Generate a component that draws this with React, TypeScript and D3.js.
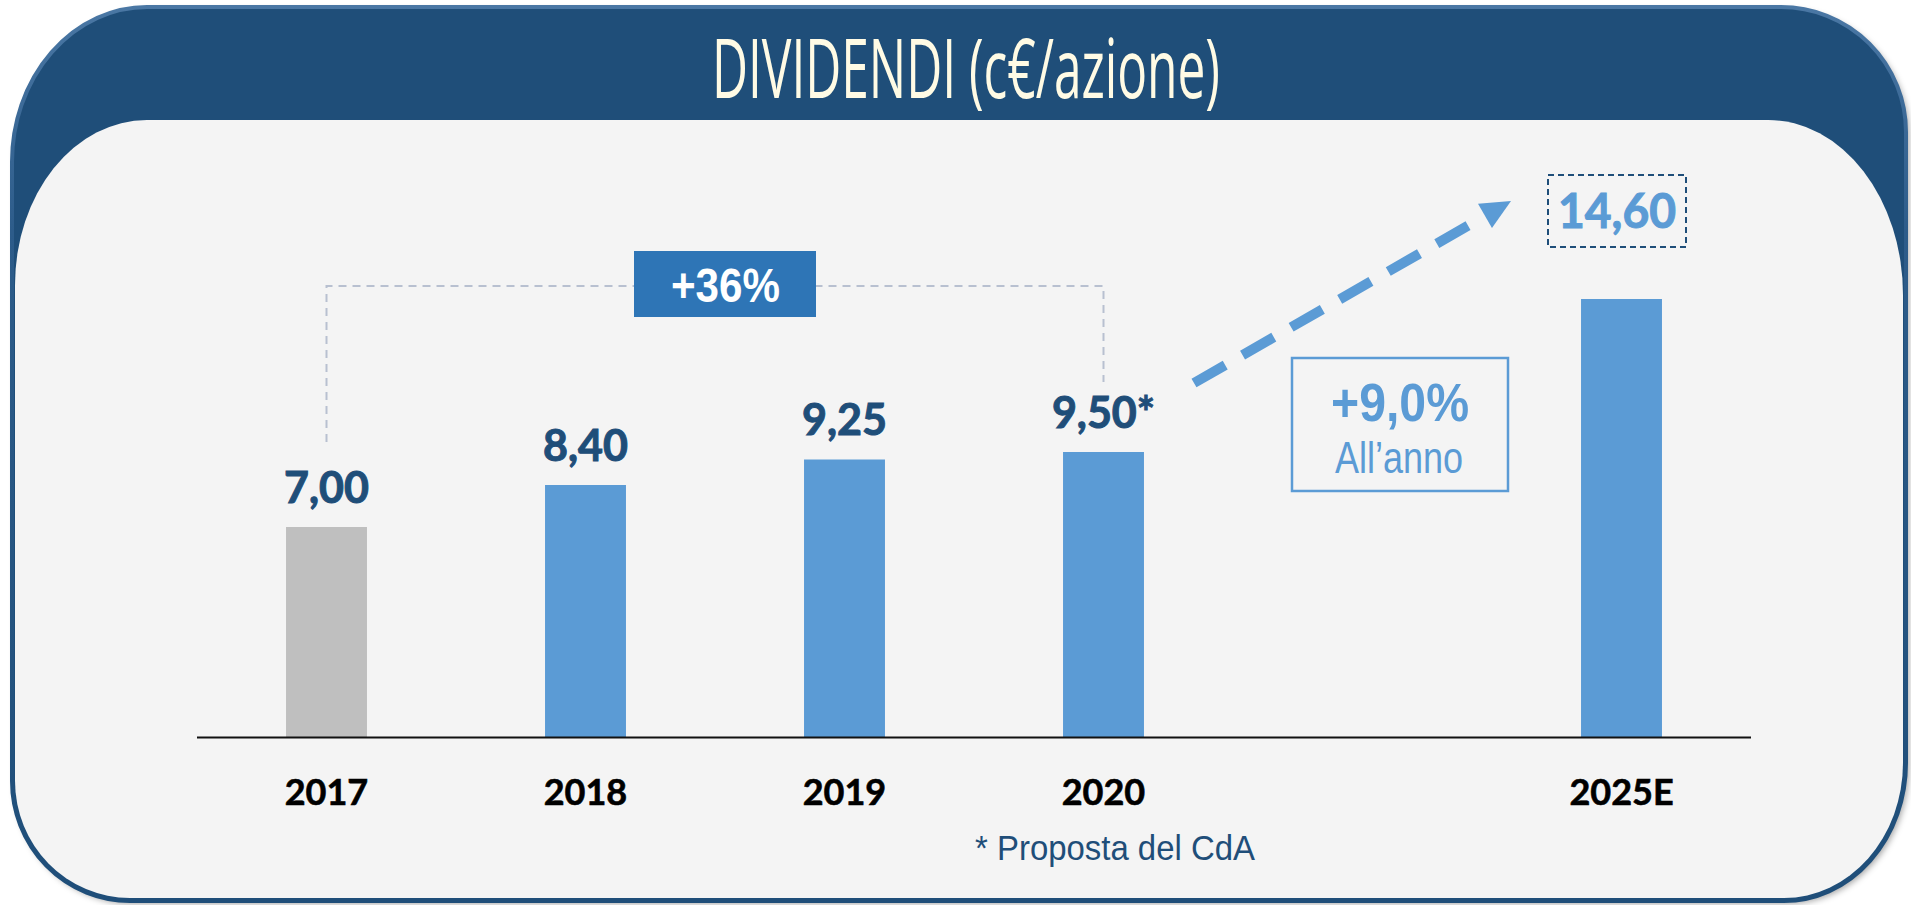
import React from "react";
import * as d3 from "d3";

const categories = ["2017", "2018", "2019", "2020", "", "2025E"];
const values: (number | null)[] = [7.0, 8.4, 9.25, 9.5, null, 14.6];
const valueLabels = ["7,00", "8,40", "9,25", "9,50*", "", ""];
const barColors = ["#bfbfbf", "#5b9bd5", "#5b9bd5", "#5b9bd5", "", "#5b9bd5"];
const titleText = "DIVIDENDI (c€/azione)";
const growthLabel = "+36%";
const cagrLabel = "+9,0%";
const cagrSub = "All\u2019anno";
const targetLabel = "14,60";
const footnote = "* Proposta del CdA";

const W = 1911;
const H = 905;

function roundedPath(
  x0: number, y0: number, x1: number, y1: number,
  tl: [number, number], tr: [number, number], br: [number, number], bl: [number, number]
) {
  return [
    `M${x0},${y0 + tl[1]}`,
    `A${tl[0]},${tl[1]} 0 0 1 ${x0 + tl[0]},${y0}`,
    `L${x1 - tr[0]},${y0}`,
    `A${tr[0]},${tr[1]} 0 0 1 ${x1},${y0 + tr[1]}`,
    `L${x1},${y1 - br[1]}`,
    `A${br[0]},${br[1]} 0 0 1 ${x1 - br[0]},${y1}`,
    `L${x0 + bl[0]},${y1}`,
    `A${bl[0]},${bl[1]} 0 0 1 ${x0},${y1 - bl[1]}`,
    "Z",
  ].join(" ");
}

export default function App() {
  const x = d3
    .scaleBand<string>()
    .domain(categories.map((c, i) => c || `gap${i}`))
    .range([197, 1751])
    .paddingInner(0.6875)
    .paddingOuter(0.34375);
  const y = d3.scaleLinear().domain([0, 10]).range([737, 437]);
  const keyOf = (i: number) => categories[i] || `gap${i}`;
  const cx = (i: number) => (x(keyOf(i)) as number) + x.bandwidth() / 2;

  const outer = roundedPath(12, 7, 1906, 901, [135, 155], [125, 125], [122, 138], [118, 120]);
  const inner = roundedPath(15, 120, 1903, 898, [132, 165], [135, 175], [119, 135], [115, 117]);

  // bracket for +36%
  const bracket = d3.path();
  bracket.moveTo(cx(0), y(values[0] as number) - 85);
  bracket.lineTo(cx(0), 286);
  bracket.lineTo(cx(3), 286);
  bracket.lineTo(cx(3), y(values[3] as number) - 70);

  // arrow
  const start: [number, number] = [1194, 383];
  const tip: [number, number] = [1511, 201];
  const dx = tip[0] - start[0];
  const dy = tip[1] - start[1];
  const len = Math.hypot(dx, dy);
  const ux = dx / len, uy = dy / len;
  const nx = -uy, ny = ux;
  const headLen = 30, headHalf = 14;
  const base: [number, number] = [tip[0] - ux * headLen, tip[1] - uy * headLen];
  const head = d3.path();
  head.moveTo(tip[0], tip[1]);
  head.lineTo(base[0] + nx * headHalf, base[1] + ny * headHalf);
  head.lineTo(base[0] - nx * headHalf, base[1] - ny * headHalf);
  head.closePath();

  const narrow = "'Liberation Sans Narrow', 'Arial Narrow', 'Liberation Sans', Arial, sans-serif";

  return (
    <svg
      width={W}
      height={H}
      viewBox={`0 0 ${W} ${H}`}
      style={{ position: "absolute", left: 0, top: 0, background: "#ffffff" }}
    >
      <defs>
        <linearGradient id="frameStroke" x1="0" y1="0" x2="0" y2="1">
          <stop offset="0" stopColor="#4a77a4" />
          <stop offset="0.25" stopColor="#2d5c8a" />
          <stop offset="1" stopColor="#1f4e79" />
        </linearGradient>
        <filter id="shadow" x="-5%" y="-5%" width="110%" height="110%">
          <feGaussianBlur stdDeviation="3" />
        </filter>
      </defs>

      {/* frame */}
      <path d={outer} fill="rgba(0,0,0,0.35)" transform="translate(3,3)" filter="url(#shadow)" />
      <path d={outer} fill="#1f4e79" />
      <path d={inner} fill="#f4f4f4" />
      <path d={outer} fill="none" stroke="url(#frameStroke)" strokeWidth={4} />

      {/* title */}
      <text
        x={966}
        y={98}
        textAnchor="middle"
        fontFamily="'Open Sans', 'DejaVu Sans', sans-serif"
        fontSize={82}
        fill="#fffbe5"
        textLength={508}
        lengthAdjust="spacingAndGlyphs"
      >
        {titleText}
      </text>

      {/* bracket */}
      <path d={bracket.toString()} fill="none" stroke="#b8c0d0" strokeWidth={2} strokeDasharray="8 6" />
      <rect x={634} y={251} width={182} height={66} fill="#2e75b6" />
      <text
        x={725.5}
        y={302}
        textAnchor="middle"
        fontFamily={narrow}
        fontWeight="bold"
        fontSize={48}
        fill="#ffffff"
        textLength={109}
        lengthAdjust="spacingAndGlyphs"
      >
        {growthLabel}
      </text>

      {/* bars */}
      {values.map((v, i) =>
        v == null ? null : (
          <rect
            key={`bar${i}`}
            x={x(keyOf(i))}
            y={y(v)}
            width={x.bandwidth()}
            height={y(0) - y(v)}
            fill={barColors[i]}
          />
        )
      )}

      {/* axis line */}
      <line x1={197} x2={1751} y1={737.5} y2={737.5} stroke="#111" strokeWidth={2} />

      {/* value labels */}
      {values.map((v, i) =>
        v == null || !valueLabels[i] ? null : (
          <text
            key={`vl${i}`}
            x={cx(i)}
            y={y(v) - 24.5}
            textAnchor="middle"
            fontFamily="Lato, 'Open Sans', sans-serif"
            fontWeight="bold"
            fontSize={43}
            fill="#1f4e79"
            stroke="#1f4e79"
            strokeWidth={1}
          >
            {valueLabels[i]}
          </text>
        )
      )}

      {/* category labels */}
      {categories.map((c, i) =>
        c ? (
          <text
            key={`cat${i}`}
            x={cx(i)}
            y={805}
            textAnchor="middle"
            fontFamily="Lato, 'Open Sans', sans-serif"
            fontWeight="bold"
            fontSize={36}
            fill="#000"
            stroke="#000"
            strokeWidth={0.6}
          >
            {c}
          </text>
        ) : null
      )}

      {/* arrow */}
      <line
        x1={start[0]}
        y1={start[1]}
        x2={base[0]}
        y2={base[1]}
        stroke="#5b9bd5"
        strokeWidth={10}
        strokeDasharray="36 20"
      />
      <path d={head.toString()} fill="#5b9bd5" />

      {/* CAGR box */}
      <rect x={1292} y={358} width={216} height={133} fill="none" stroke="#5b9bd5" strokeWidth={2.5} />
      <text
        x={1400}
        y={421}
        textAnchor="middle"
        fontFamily={narrow}
        fontWeight="bold"
        fontSize={54}
        fill="#5b9bd5"
        textLength={138}
        lengthAdjust="spacingAndGlyphs"
      >
        {cagrLabel}
      </text>
      <text
        x={1399}
        y={473}
        textAnchor="middle"
        fontFamily={narrow}
        fontSize={45}
        fill="#5b9bd5"
        textLength={128}
        lengthAdjust="spacingAndGlyphs"
      >
        {cagrSub}
      </text>

      {/* target box */}
      <rect
        x={1548}
        y={175}
        width={138}
        height={72}
        fill="none"
        stroke="#1f4e79"
        strokeWidth={2}
        strokeDasharray="6 4"
      />
      <text
        x={1617}
        y={228}
        textAnchor="middle"
        fontFamily="Lato, 'Open Sans', sans-serif"
        fontWeight="bold"
        fontSize={48}
        fill="#5b9bd5"
        stroke="#5b9bd5"
        strokeWidth={1}
        textLength={118}
        lengthAdjust="spacingAndGlyphs"
      >
        {targetLabel}
      </text>

      {/* footnote */}
      <text
        x={975}
        y={860}
        fontFamily={narrow}
        fontSize={35}
        fill="#1f4e79"
        textLength={280}
        lengthAdjust="spacingAndGlyphs"
      >
        {footnote}
      </text>
    </svg>
  );
}
